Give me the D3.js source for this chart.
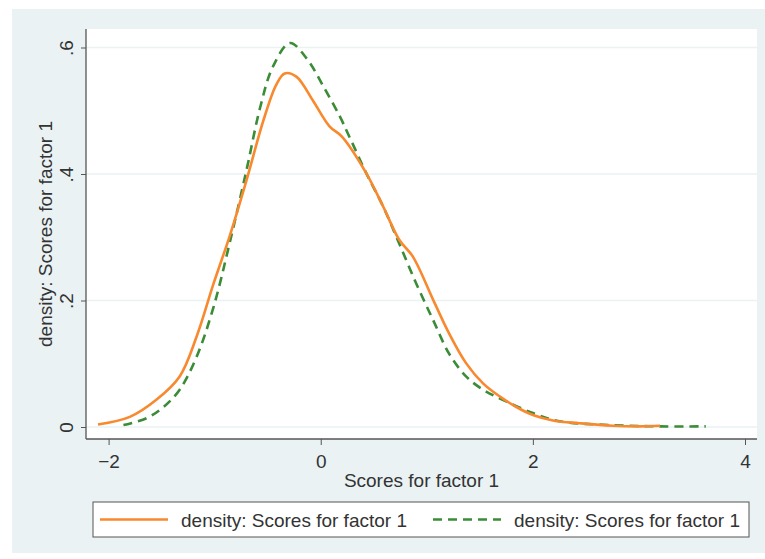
<!DOCTYPE html>
<html>
<head>
<meta charset="utf-8">
<script src="https://cdn.jsdelivr.net/npm/d3@7"></script>
<style>
  body { margin: 0; background: #fff; }
  text { font-family: "Liberation Sans", Arial, sans-serif; fill: #333; }
</style>
</head>
<body>
<svg width="765" height="559"></svg>
<script>
// kernel density, series 1 (solid orange)
const solidX = [-2.10, -1.80, -1.55, -1.33, -1.17, -1.01, -0.86, -0.70, -0.54, -0.42, -0.34, -0.23, -0.07, 0.085, 0.20, 0.43, 0.59, 0.74, 0.87, 1.06, 1.21, 1.37, 1.53, 1.69, 1.84, 2.00, 2.20, 2.44, 2.75, 3.00, 3.20];
const solidY = [0.004, 0.016, 0.043, 0.080, 0.143, 0.227, 0.301, 0.390, 0.485, 0.541, 0.559, 0.554, 0.515, 0.475, 0.459, 0.401, 0.348, 0.296, 0.269, 0.201, 0.148, 0.101, 0.069, 0.048, 0.032, 0.019, 0.010, 0.006, 0.002, 0.001, 0.002];
// kernel density, series 2 (dashed green)
const dashX = [-1.86, -1.64, -1.48, -1.33, -1.17, -1.01, -0.86, -0.70, -0.57, -0.45, -0.29, -0.13, 0.02, 0.18, 0.27, 0.43, 0.59, 0.74, 0.90, 1.06, 1.21, 1.37, 1.53, 1.69, 2.00, 2.25, 2.75, 3.20, 3.63];
const dashY = [0.003, 0.014, 0.032, 0.059, 0.111, 0.190, 0.290, 0.406, 0.506, 0.570, 0.607, 0.582, 0.540, 0.491, 0.459, 0.401, 0.348, 0.290, 0.227, 0.169, 0.116, 0.080, 0.059, 0.045, 0.022, 0.009, 0.003, 0.001, 0.001];

const xTicks = [-2, 0, 2, 4];
const yTicks = [0, 0.2, 0.4, 0.6];
const yTickLabels = ['0', '.2', '.4', '.6'];
const xLabel = 'Scores for factor 1';
const yLabel = 'density: Scores for factor 1';
const seriesNames = ['density: Scores for factor 1', 'density: Scores for factor 1'];

const bg = '#eaf2f3';
const orange = '#f8892e';
const green = '#3b8c36';
const fontSize = 19;

const svg = d3.select('svg');
const plot = { left: 86, right: 757, top: 29, bottom: 439 };

svg.append('rect')
    .attr('x', 12).attr('y', 9)
    .attr('width', 753).attr('height', 544)
    .attr('fill', bg);

svg.append('rect')
    .attr('x', plot.left).attr('y', plot.top)
    .attr('width', plot.right - plot.left).attr('height', plot.bottom - plot.top)
    .attr('fill', '#fff');

const xScale = d3.scaleLinear().domain([-2, 4]).range([108.6, 745]);
const yScale = d3.scaleLinear().domain([0, 0.6]).range([427, 47.5]);

// gridlines
svg.append('g')
  .selectAll('line')
  .data(yTicks)
  .join('line')
    .attr('x1', plot.left).attr('x2', plot.right)
    .attr('y1', d => yScale(d)).attr('y2', d => yScale(d))
    .attr('stroke', bg)
    .attr('stroke-width', 1.5);

const xAxis = d3.axisBottom(xScale)
  .tickValues(xTicks)
  .tickFormat(d3.format('d'))
  .tickSize(6)
  .tickSizeOuter(0)
  .tickPadding(10);

const yAxis = d3.axisLeft(yScale)
  .tickValues(yTicks)
  .tickFormat((d, i) => yTickLabels[i])
  .tickSize(5)
  .tickSizeOuter(0);

const xAxisG = svg.append('g')
    .attr('transform', `translate(0,${plot.bottom})`)
    .call(xAxis);
xAxisG.select('.domain').attr('d', `M${plot.left},0H${plot.right}`);

const yAxisG = svg.append('g')
    .attr('transform', `translate(${plot.left},0)`)
    .call(yAxis);
yAxisG.select('.domain').attr('d', `M0,${plot.top}V${plot.bottom}`);

svg.selectAll('.domain').attr('stroke', '#555').attr('stroke-width', 1.3);
svg.selectAll('.tick line').attr('stroke', '#555');
xAxisG.selectAll('.tick text')
    .attr('font-size', fontSize)
    .attr('fill', '#333');
yAxisG.selectAll('.tick text')
    .attr('font-size', fontSize)
    .attr('fill', '#333')
    .attr('text-anchor', 'middle')
    .attr('x', 0)
    .attr('dy', '0.35em')
    .attr('transform', 'translate(-20,0) rotate(-90)');

svg.append('text')
    .attr('x', (plot.left + plot.right) / 2)
    .attr('y', 487)
    .attr('text-anchor', 'middle')
    .attr('font-size', fontSize)
    .text(xLabel);

svg.append('text')
    .attr('transform', `translate(52,${(plot.top + plot.bottom) / 2}) rotate(-90)`)
    .attr('text-anchor', 'middle')
    .attr('font-size', fontSize)
    .text(yLabel);

const line = d3.line()
    .x(d => xScale(d[0]))
    .y(d => yScale(d[1]))
    .curve(d3.curveCatmullRom);

svg.append('path')
    .datum(dashX.map((x, i) => [x, dashY[i]]))
    .attr('d', line)
    .attr('fill', 'none')
    .attr('stroke', green)
    .attr('stroke-width', 2.6)
    .attr('stroke-dasharray', '9,6');

svg.append('path')
    .datum(solidX.map((x, i) => [x, solidY[i]]))
    .attr('d', line)
    .attr('fill', 'none')
    .attr('stroke', orange)
    .attr('stroke-width', 2.6);

// legend
const legend = svg.append('g');
legend.append('rect')
    .attr('x', 93).attr('y', 502)
    .attr('width', 656).attr('height', 35)
    .attr('fill', '#fff')
    .attr('stroke', '#555')
    .attr('stroke-width', 1);

const legendItems = [
  { x: 100, color: orange, dash: null, name: seriesNames[0] },
  { x: 433, color: green, dash: '9,6', name: seriesNames[1] }
];
legendItems.forEach(item => {
  legend.append('line')
      .attr('x1', item.x).attr('x2', item.x + 68)
      .attr('y1', 519.5).attr('y2', 519.5)
      .attr('stroke', item.color)
      .attr('stroke-width', 2.6)
      .attr('stroke-dasharray', item.dash);
  legend.append('text')
      .attr('x', item.x + 81)
      .attr('y', 527)
      .attr('font-size', fontSize)
      .text(item.name);
});
</script>
</body>
</html>
